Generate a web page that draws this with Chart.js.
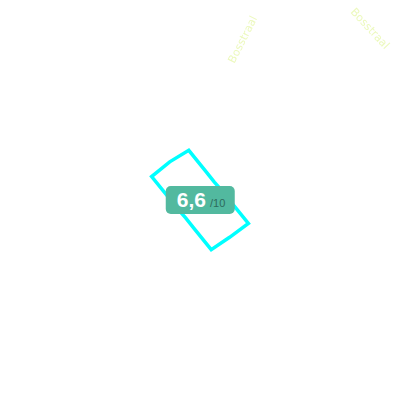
<!DOCTYPE html>
<html>
<head>
<meta charset="utf-8">
<script src="https://cdn.jsdelivr.net/npm/chart.js@4"></script>
<style>
  html, body { margin: 0; padding: 0; background: #fff; }
  #wrap { position: relative; width: 400px; height: 400px; }
  #score {
    position: absolute; left: 200px; top: 200px; transform: translate(-50%, -50%);
    background: #52b99f; border-radius: 5px; height: 28px; padding: 0 9px 0 11px;
    display: flex; align-items: baseline; line-height: 28px; white-space: nowrap;
    font-family: "Liberation Sans", Arial, sans-serif;
  }
  #score b { color: #fff; font-size: 21px; }
  #score span { color: #2e6b5c; font-size: 11px; margin-left: 4px; }
</style>
</head>
<body>
<div id="wrap">
  <canvas id="radarChart" width="400" height="400"></canvas>
  <div id="score"><b id="avg"></b><span>/10</span></div>
</div>
<script>
// 14 axes, only two labels are readable in the picture
const labels = ['Bosstraal', 'Bosstraal', '', '', '', '', '', '', '', '', '', '', '', ''];
const scores = [5.1, 4.1, 4.2, 5.25, 9.6, 8.5, 9.1, 5.1, 4.1, 4.2, 5.25, 9.6, 8.7, 9.1];
const maxScore = 10;

// where the two visible labels sit: axis index, distance from centre (px), rotation (deg)
const labelSpots = [
  { index: 0, dist: 141, rot: -63 },
  { index: 1, dist: 243, rot: 47 }
];

const avg = scores.reduce((a, b) => a + b, 0) / scores.length;
document.getElementById('avg').textContent = avg.toFixed(1).replace('.', ',');

const axisLabels = {
  id: 'axisLabels',
  afterDraw(chart) {
    const scale = chart.scales.r;
    const ctx = chart.ctx;
    ctx.save();
    ctx.font = '11px "DejaVu Sans", sans-serif';
    ctx.fillStyle = '#ecf9bd';
    ctx.textAlign = 'left';
    ctx.textBaseline = 'middle';
    labelSpots.forEach(s => {
      const p = scale.getPointPosition(s.index, s.dist);
      ctx.save();
      ctx.translate(p.x, p.y);
      ctx.rotate(s.rot * Math.PI / 180);
      ctx.fillText(labels[s.index], 0, 0);
      ctx.restore();
    });
    ctx.restore();
  }
};

const ctx = document.getElementById('radarChart').getContext('2d');
new Chart(ctx, {
  type: 'radar',
  data: {
    labels: labels,
    datasets: [{
      data: scores,
      borderColor: '#00ffff',
      borderWidth: 3.5,
      backgroundColor: 'transparent',
      fill: false,
      pointRadius: 0,
      tension: 0
    }]
  },
  options: {
    responsive: false,
    animation: false,
    layout: { padding: 144 },
    plugins: { legend: { display: false }, tooltip: { enabled: false } },
    scales: {
      r: {
        min: 0,
        max: maxScore,
        startAngle: 13,
        grid: { display: false },
        angleLines: { display: false },
        ticks: { display: false },
        pointLabels: { display: false }
      }
    }
  },
  plugins: [axisLabels]
});
</script>
</body>
</html>
